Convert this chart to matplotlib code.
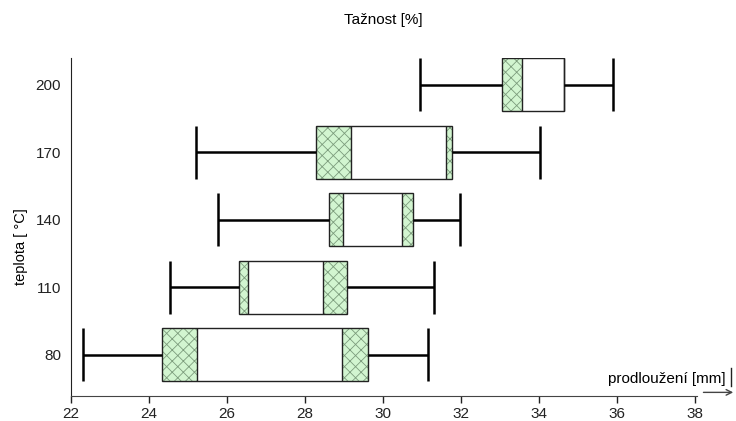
import matplotlib
matplotlib.use("Agg")
import matplotlib.pyplot as plt
from matplotlib.lines import Line2D

plt.rcParams['font.family'] = ['Liberation Sans', 'DejaVu Sans']
plt.rcParams['hatch.linewidth'] = 0.6

# teploty (kategorie na ose y)
teploty = ['80', '110', '140', '170', '200']
# vousy: minimum a maximum
wmin = [22.31, 24.54, 25.77, 25.21, 30.96]
wmax = [31.16, 31.30, 31.96, 34.03, 35.90]
# krabice: dolni a horni kvartil
q1 = [24.33, 26.31, 28.62, 28.28, 33.06]
q3 = [29.62, 29.09, 30.76, 31.78, 34.63]
# hranice srafovanych casti (vnitrni)
sraf_a = [25.23, 26.55, 28.98, 29.17, 33.57]
sraf_b = [28.94, 28.47, 30.48, 31.61, 34.63]

fig = plt.figure(figsize=(7.36, 4.21), dpi=100)
ax = fig.add_axes([0.0961, 0.0594, 0.8512, 0.8028])

pos = list(range(len(teploty)))
h = 0.786
green = '#d2f5d0'
hatch_col = '#7c9c7c'
edge = '#222222'

# srafovane casti
ax.barh(pos, [a - b for a, b in zip(sraf_a, q1)], left=q1, height=h,
        color=green, edgecolor=hatch_col, hatch='xxx', linewidth=0)
ax.barh(pos, [a - b for a, b in zip(q3, sraf_b)], left=sraf_b, height=h,
        color=green, edgecolor=hatch_col, hatch='xxx', linewidth=0)
# obrys krabice
ax.barh(pos, [a - b for a, b in zip(q3, q1)], left=q1, height=h,
        fill=False, edgecolor=edge, linewidth=1.0)
ax.vlines(sraf_a, [p - h / 2 for p in pos], [p + h / 2 for p in pos], color=edge, lw=1.0)
ax.vlines(sraf_b, [p - h / 2 for p in pos], [p + h / 2 for p in pos], color=edge, lw=1.0)

# vousy
ax.hlines(pos, wmin, q1, color='black', lw=1.8)
ax.hlines(pos, q3, wmax, color='black', lw=1.8)
ax.vlines(wmin, [p - h / 2 for p in pos], [p + h / 2 for p in pos], color='black', lw=1.8)
ax.vlines(wmax, [p - h / 2 for p in pos], [p + h / 2 for p in pos], color='black', lw=1.8)

ax.set_xlim(22, 38.05)
ax.set_ylim(-0.613, 4.40)
ax.set_xticks(range(22, 39, 2))
ax.set_yticks(pos)
ax.set_yticklabels(teploty)
ax.tick_params(axis='y', length=0, pad=7, labelsize=11, colors='#222222')
ax.tick_params(axis='x', length=5, width=1, pad=3, labelsize=11,
               colors='#222222', direction='out')
for s in ['top', 'right']:
    ax.spines[s].set_visible(False)
ax.spines['left'].set_color('#222222')
ax.spines['bottom'].set_color('#444444')

fig.text(0.521, 0.952, 'Tažnost [%]', ha='center', va='center', fontsize=11)
fig.text(0.029, 0.414, 'teplota [ °C]', rotation=90, ha='center', va='center', fontsize=10.5)
fig.text(0.986, 0.10, 'prodloužení [mm]', ha='right', va='center', fontsize=11)
fig.add_artist(Line2D([0.993, 0.993], [0.083, 0.125], color='#222222', lw=1))
ax.annotate('', xy=(1.0, 0.068), xytext=(0.952, 0.068), xycoords='figure fraction',
            arrowprops=dict(arrowstyle='->', color='#444444', lw=1))

fig.savefig('out.png', dpi=100)
